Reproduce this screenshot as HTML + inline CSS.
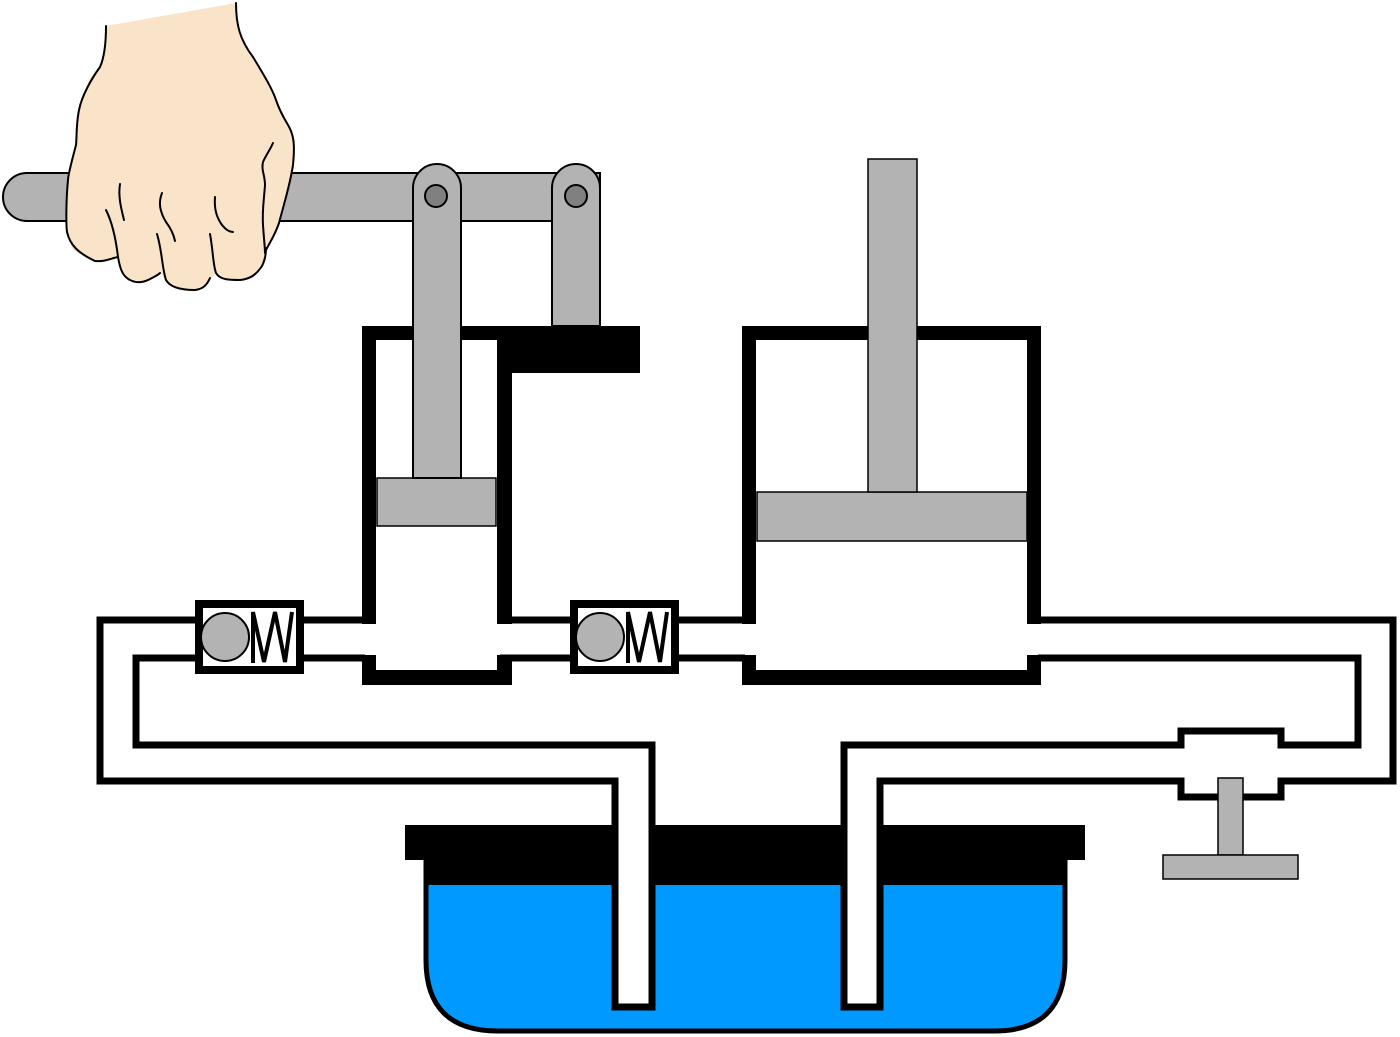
<!DOCTYPE html>
<html><head><style>html,body{margin:0;padding:0;background:#fff}svg{display:block}</style></head>
<body>
<svg width="1400" height="1037" viewBox="0 0 1400 1037" xmlns="http://www.w3.org/2000/svg">
<rect width="1400" height="1037" fill="#fff"/>
<!-- reservoir -->
<path d="M426 862 L426 960 Q426 1031 498 1031 L994 1031 Q1065 1031 1065 960 L1065 862 Z" fill="#0099ff" stroke="#000" stroke-width="5"/>
<rect x="424" y="855" width="643" height="30" fill="#000"/>
<rect x="405" y="825" width="680" height="35" fill="#000"/>
<rect x="615" y="781" width="37" height="226" fill="#fff"/>
<rect x="844" y="781" width="36" height="226" fill="#fff"/>
<g fill="none" stroke="#000" stroke-width="7" stroke-linejoin="miter">
<path d="M198 620 L100 620 L100 781 L615 781 L615 1007 L652 1007 L652 745 L136 745 L136 658 L198 658"/>
<path d="M300 620 L365 620"/>
<path d="M300 658 L365 658"/>
<path d="M509 620 L574 620"/>
<path d="M500 658 L574 658"/>
<path d="M675 620 L745 620"/>
<path d="M675 658 L745 658"/>
<path d="M1038 620 L1393 620 L1393 781 L1281 781 L1281 797 L1181 797 L1181 781 L880 781 L880 1007 L844 1007 L844 745 L1181 745 L1181 731 L1281 731 L1281 745 L1358 745 L1358 658 L1038 658"/>
</g>
<g stroke="#000">
<rect x="199" y="604" width="101" height="66" fill="#fff" stroke-width="8"/>
<rect x="574" y="604" width="101" height="66" fill="#fff" stroke-width="8"/>
</g>
<g stroke="#000" stroke-width="2">
<circle cx="225" cy="637" r="24" fill="#b3b3b3"/>
<circle cx="600" cy="637" r="24" fill="#b3b3b3"/>
</g>
<g fill="none" stroke="#000" stroke-width="4">
<path d="M253 663 L253 612 L264 662 L275 612 L285 662 L292 612"/>
<path d="M628 663 L628 612 L639 662 L650 612 L660 662 L667 612"/>
</g>
<g fill="#000">
<rect x="362" y="326" width="14" height="298"/>
<rect x="497" y="326" width="15" height="298"/>
<rect x="362" y="326" width="150" height="14"/>
<rect x="497" y="326" width="143" height="47"/>
<rect x="362" y="655" width="14" height="30"/>
<rect x="497" y="655" width="15" height="30"/>
<rect x="362" y="670" width="150" height="15"/>
<rect x="742" y="326" width="14" height="298"/>
<rect x="1027" y="326" width="14" height="298"/>
<rect x="742" y="326" width="299" height="14"/>
<rect x="742" y="655" width="14" height="30"/>
<rect x="1027" y="655" width="14" height="30"/>
<rect x="742" y="670" width="299" height="15"/>
</g>
<g fill="#b3b3b3" stroke="#000" stroke-width="1.5">
<rect x="377" y="478" width="119" height="48"/>
<rect x="757" y="492" width="270" height="49"/>
<rect x="868" y="159" width="49" height="333"/>
<rect x="1218" y="778" width="25" height="77"/>
<rect x="1163" y="855" width="135" height="24"/>
<path d="M27 173 L600 173 L600 221 L27 221 A24 24 0 0 1 27 173 Z" stroke-width="2"/>
<path d="M413 188 A24 24 0 0 1 461 188 L461 478 L413 478 Z" stroke-width="2"/>
<path d="M552 188 A24 24 0 0 1 600 188 L600 326 L552 326 Z" stroke-width="2"/>
</g>
<g fill="#808080" stroke="#000" stroke-width="2">
<circle cx="436" cy="196" r="11"/>
<circle cx="576" cy="196" r="11"/>
</g>
<!-- hand -->
<path d="M106 26 L236 3 L239 30 L253 57 L274 93 L286 123 L295 140 L292 167 L286 200 L279 223 L266 247 L266 260 L253 278 L230 280 L216 273 L207 283 L195 290 L178 288 L166 280 L160 273 L145 283 L124 277 L118 257 L95 262 L73 250 L66 230 L68 180 L77 143 L79 110 L89 80 L100 67 L106 43 Z" fill="#f9e4c9" stroke="none"/>
<g fill="none" stroke="#000" stroke-width="2" stroke-linejoin="round" stroke-linecap="round">
<path d="M106 26 C106 45 104 58 100 67 C92 78 82 95 79 110 C76 125 77 135 76 145 C72 160 68 175 68 180 C66 200 66 225 67 232 C70 245 78 253 95 261 C105 262 112 258 118 257"/>
<path d="M236 3 C236 25 240 40 253 57 C262 72 272 88 276 100 C280 112 284 118 288 125 C294 135 295 145 293 165 C290 185 285 200 279 223 C275 235 270 242 266 250"/>
<path d="M118 257 C120 268 122 276 130 280 C138 284 145 282 152 278 C158 275 160 273 160 273"/>
<path d="M157 234 C162 250 162 268 166 280 C170 287 180 290 195 290 C203 289 207 285 210 278"/>
<path d="M210 234 C213 250 213 265 216 273 C220 280 230 280 240 280 C250 279 256 275 262 266 C265 260 266 255 266 248"/>
<path d="M273 143 C270 150 266 155 263 162 C261 170 265 175 265 185 C264 200 262 210 263 225 C264 240 265 248 265 253"/>
<path d="M106 210 C112 222 116 240 118 257"/>
<path d="M120 184 C118 196 121 208 124 220"/>
<path d="M162 193 C158 203 160 212 166 222 C172 230 174 236 175 241"/>
<path d="M215 197 C214 210 217 218 222 225 C226 230 230 232 233 232"/>
</g>
</svg>
</body></html>
